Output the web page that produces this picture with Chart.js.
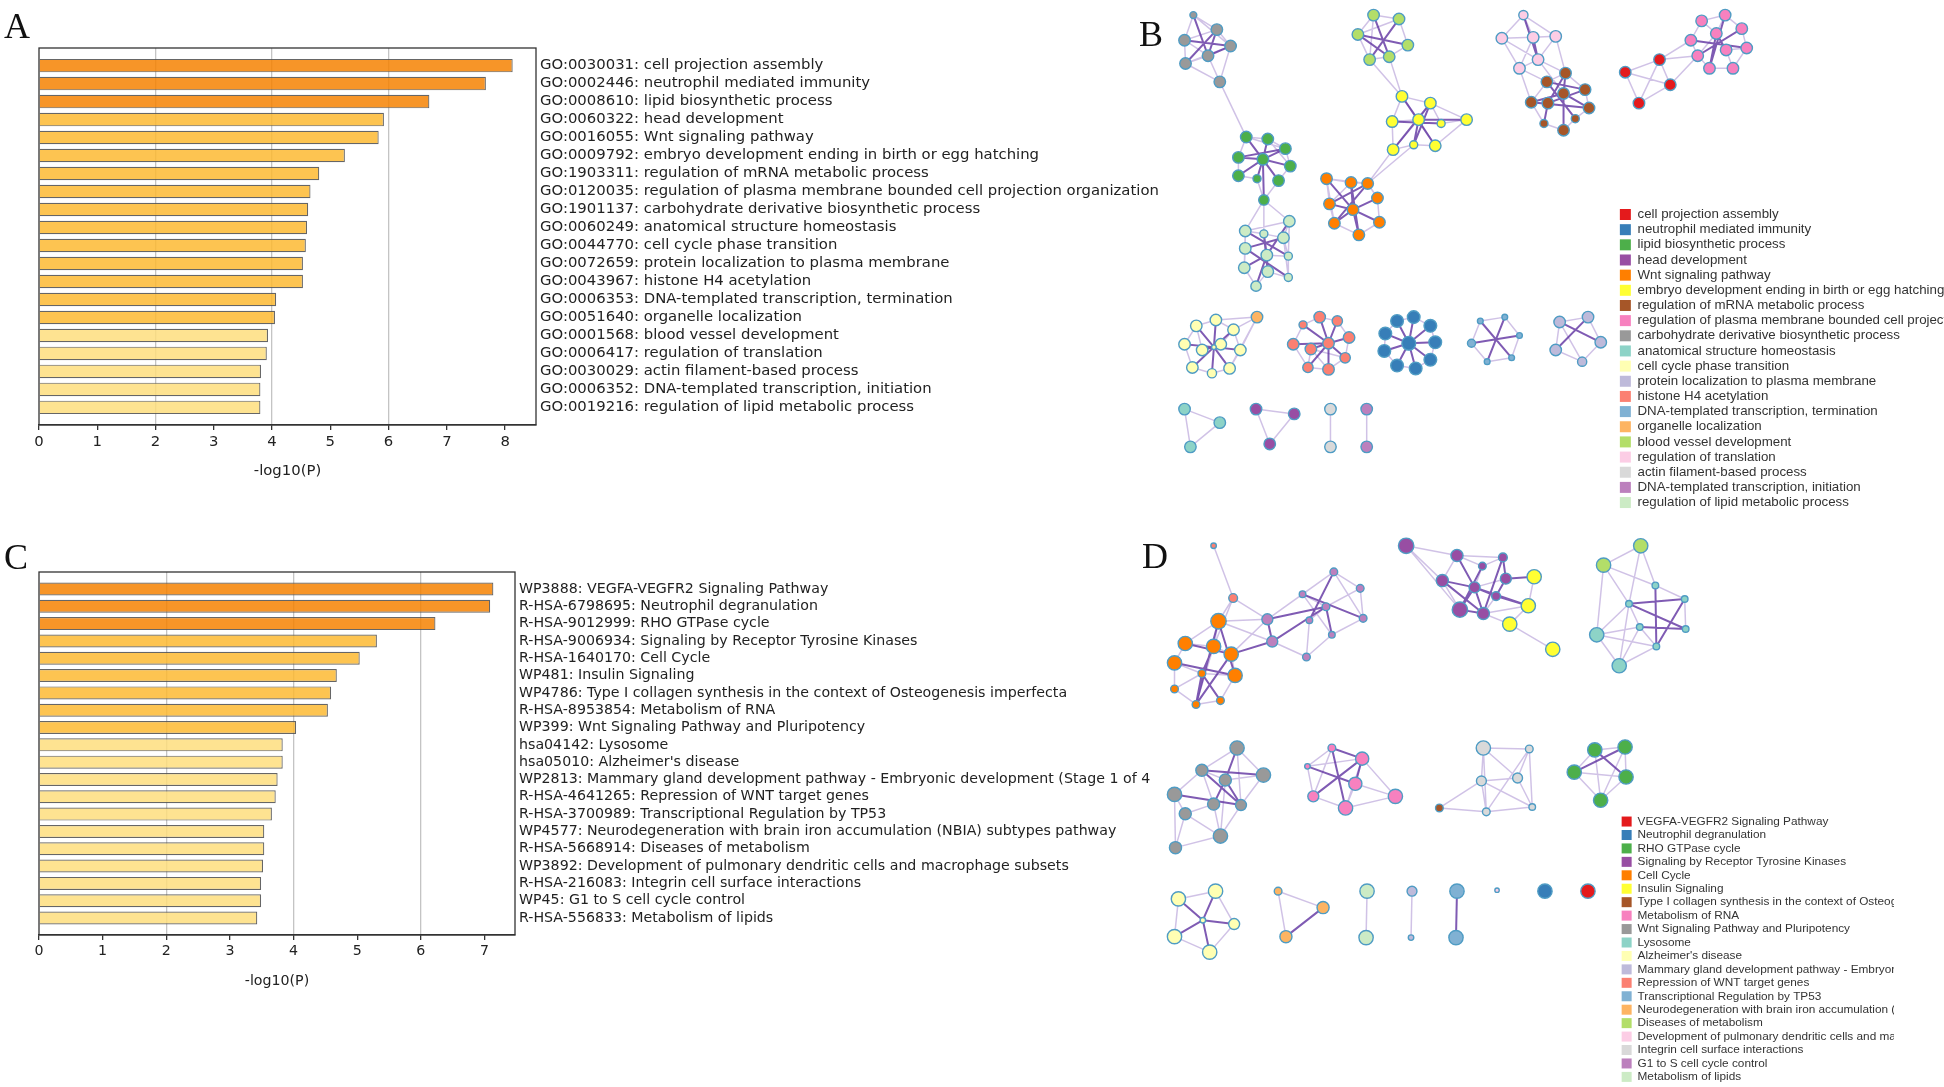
<!DOCTYPE html>
<html>
<head>
<meta charset="utf-8">
<script src="https://cdn.jsdelivr.net/npm/chart.js@4.4.1/dist/chart.umd.min.js"></script>
<style>
body { margin: 0; width: 1944px; height: 1087px; overflow: hidden; background: #fff; position: relative; }
canvas { position: absolute; }
.clip { position: absolute; overflow: hidden; }
.clip canvas { left: 0; top: 0; }
.tag { position: absolute; font-family: 'Liberation Serif', serif; font-size: 36px; line-height: 1; color: #111; }
</style>
</head>
<body>
<canvas id="netB" width="804" height="520" style="left:1140px;top:0"></canvas>
<canvas id="netD" width="804" height="560" style="left:1140px;top:527px"></canvas>
<div class="clip" style="left:1618px;top:206px;width:326px;height:310px"><canvas id="legB" width="1000" height="310"></canvas></div>
<div class="clip" style="left:1620px;top:814px;width:274px;height:273px"><canvas id="legD" width="1000" height="273"></canvas></div>
<canvas id="barA" width="1170" height="480" style="left:0;top:0"></canvas>
<canvas id="barC" width="1151" height="466" style="left:0;top:524px"></canvas>
<div class="tag" style="left:4px;top:8px">A</div>
<div class="tag" style="left:1139px;top:16px">B</div>
<div class="tag" style="left:4px;top:539px">C</div>
<div class="tag" style="left:1142px;top:538px">D</div>
<script>
// ---- bar chart A (GO terms) ----
const termsA = [
  'GO:0030031: cell projection assembly',
  'GO:0002446: neutrophil mediated immunity',
  'GO:0008610: lipid biosynthetic process',
  'GO:0060322: head development',
  'GO:0016055: Wnt signaling pathway',
  'GO:0009792: embryo development ending in birth or egg hatching',
  'GO:1903311: regulation of mRNA metabolic process',
  'GO:0120035: regulation of plasma membrane bounded cell projection organization',
  'GO:1901137: carbohydrate derivative biosynthetic process',
  'GO:0060249: anatomical structure homeostasis',
  'GO:0044770: cell cycle phase transition',
  'GO:0072659: protein localization to plasma membrane',
  'GO:0043967: histone H4 acetylation',
  'GO:0006353: DNA-templated transcription, termination',
  'GO:0051640: organelle localization',
  'GO:0001568: blood vessel development',
  'GO:0006417: regulation of translation',
  'GO:0030029: actin filament-based process',
  'GO:0006352: DNA-templated transcription, initiation',
  'GO:0019216: regulation of lipid metabolic process'
];
const valuesA = [8.13, 7.67, 6.70, 5.92, 5.83, 5.25, 4.81, 4.66, 4.62, 4.60,
                 4.58, 4.53, 4.53, 4.07, 4.05, 3.93, 3.91, 3.81, 3.80, 3.80];
const xTicksA = [0, 1, 2, 3, 4, 5, 6, 7, 8];

// ---- bar chart C (pathways) ----
const termsC = [
  'WP3888: VEGFA-VEGFR2 Signaling Pathway',
  'R-HSA-6798695: Neutrophil degranulation',
  'R-HSA-9012999: RHO GTPase cycle',
  'R-HSA-9006934: Signaling by Receptor Tyrosine Kinases',
  'R-HSA-1640170: Cell Cycle',
  'WP481: Insulin Signaling',
  'WP4786: Type I collagen synthesis in the context of Osteogenesis imperfecta',
  'R-HSA-8953854: Metabolism of RNA',
  'WP399: Wnt Signaling Pathway and Pluripotency',
  'hsa04142: Lysosome',
  "hsa05010: Alzheimer's disease",
  'WP2813: Mammary gland development pathway - Embryonic development (Stage 1 of 4)',
  'R-HSA-4641265: Repression of WNT target genes',
  'R-HSA-3700989: Transcriptional Regulation by TP53',
  'WP4577: Neurodegeneration with brain iron accumulation (NBIA) subtypes pathway',
  'R-HSA-5668914: Diseases of metabolism',
  'WP3892: Development of pulmonary dendritic cells and macrophage subsets',
  'R-HSA-216083: Integrin cell surface interactions',
  'WP45: G1 to S cell cycle control',
  'R-HSA-556833: Metabolism of lipids'
];
const valuesC = [7.14, 7.09, 6.23, 5.31, 5.04, 4.68, 4.59, 4.54, 4.04, 3.83,
                 3.83, 3.75, 3.72, 3.66, 3.54, 3.54, 3.52, 3.49, 3.49, 3.43];
const xTicksC = [0, 1, 2, 3, 4, 5, 6, 7];

// ---- network legends ----
const legendB = [
  'cell projection assembly', 'neutrophil mediated immunity', 'lipid biosynthetic process',
  'head development', 'Wnt signaling pathway', 'embryo development ending in birth or egg hatching',
  'regulation of mRNA metabolic process', 'regulation of plasma membrane bounded cell projection organization',
  'carbohydrate derivative biosynthetic process', 'anatomical structure homeostasis',
  'cell cycle phase transition', 'protein localization to plasma membrane', 'histone H4 acetylation',
  'DNA-templated transcription, termination', 'organelle localization', 'blood vessel development',
  'regulation of translation', 'actin filament-based process', 'DNA-templated transcription, initiation',
  'regulation of lipid metabolic process'
];
const legendD = [
  'VEGFA-VEGFR2 Signaling Pathway', 'Neutrophil degranulation', 'RHO GTPase cycle',
  'Signaling by Receptor Tyrosine Kinases', 'Cell Cycle', 'Insulin Signaling',
  'Type I collagen synthesis in the context of Osteogenesis imperfecta', 'Metabolism of RNA',
  'Wnt Signaling Pathway and Pluripotency', 'Lysosome', "Alzheimer's disease",
  'Mammary gland development pathway - Embryonic development (Stage 1 of 4)',
  'Repression of WNT target genes', 'Transcriptional Regulation by TP53',
  'Neurodegeneration with brain iron accumulation (NBIA) subtypes pathway', 'Diseases of metabolism',
  'Development of pulmonary dendritic cells and macrophage subsets', 'Integrin cell surface interactions',
  'G1 to S cell cycle control', 'Metabolism of lipids'
];
const palette = ['#e41a1c', '#377eb8', '#4daf4a', '#984ea3', '#ff7f00', '#ffff33', '#a65628', '#f781bf',
                 '#999999', '#8dd3c7', '#ffffb3', '#bebada', '#fb8072', '#80b1d3', '#fdb462', '#b3de69',
                 '#fccde5', '#d9d9d9', '#bc80bd', '#ccebc5'];

// ---- network B: nodes [x, y, radius, term], links "a-b" weak / "a=b" strong ----
const bGray = [[46,7,3,8],[70,22,5,8],[37,33,5,8],[84,39,5,8],[61,49,5,8],[38,57,5,8],[73,76,5,8]];
const bGrayLinks = '0-1 0-2 0-3 1-2 1-3 2-5 3-6 4-6 5-6 2-4 3-5 5-4 2=3 1=5 4=3 1=4 0=4';
const bGreen = [[100,133,5,2],[122,135,5,2],[140,145,5,2],[92,154,5,2],[117,156,5,2],[145,163,5,2],
                [92,173,5,2],[111,176,3.5,2],[133,178,5,2],[118,198,4.5,2]];
const bGreenLinks = '0-1 1-2 2-5 5-8 8-9 9-7 7-6 6-3 3-0 0-2 3-6 1-5 4=0 4=1 4=2 4=3 4=5 4=6 4=7 4=8 4=9 0=8 3=2';
const bMint = [[144,220,5,19],[99,230,5,19],[118,233,3.5,19],[138,237,5,19],[99,248,5,19],[121,255,5,19],
               [143,256,3.5,19],[98,268,5,19],[122,272,5,19],[143,278,3.5,19],[110,287,4.5,19]];
const bMintLinks = '0-1 0-3 1-2 1-4 2-3 3-6 4-7 5-6 6-9 7-10 8-9 8-10 0-6 1-7 3-9 2=5 3=4 5=7 5=8 1=6 2=8 4=9 5=10 0=5';
const bLime = [[230,7,5,15],[256,11,5,15],[214,27,5,15],[265,38,5,15],[226,53,5,15],[246,50,5,15]];
const bLimeLinks = '0-1 0-2 1-3 2-4 4-5 3-5 0-4 1-2 0=5 2=3 1=4 2=5';
const bYellow = [[259,91,5,5],[288,98,5,5],[249,117,5,5],[276,115,5,5],[299,119,3.5,5],[325,115,5,5],
                 [250,146,5,5],[271,141,3.5,5],[293,142,5,5]];
const bYellowLinks = '0-1 0-2 1-5 2-6 4-5 5-8 6-7 7-8 0-3 1-3 3-8 3-6 1-4 2-3 0=8 1=6 3=7 2=4 3=5 1=7';
const bOrange = [[182,176,5,4],[207,180,5,4],[224,181,5,4],[234,196,5,4],[185,202,5,4],[209,208,5,4],
                 [190,222,5,4],[236,221,5,4],[215,234,5,4]];
const bOrangeLinks = '0-1 1-2 2-3 3-7 7-8 8-6 6-4 4-0 0-2 4-1 0-6 5=0 5=1 5=3 5=4 5=6 5=7 5=8 1=8 2=6 2=4';
const bBrown = [[383,7,4,16],[361,31,5,16],[393,30,5,16],[416,29,5,16],[398,53,5,16],[379,62,5,16],
                [426,67,5,6],[407,76,5,6],[446,84,5,6],[424,88,5,6],[391,97,5,6],[408,98,5,6],
                [450,103,5,6],[404,119,3.5,6],[436,114,3.5,6],[424,126,5,6]];
const bBrownLinks = '0-1 0-2 0-3 1-2 2-3 1-4 2-5 3-4 4-5 1-5 0=4 2=4 6=9 6=11 7=8 9=10 9=12 9=15 8=11 7=14 10=12 11=13 ' +
                    '6-7 6-8 8-12 12-14 14-15 15-13 13-10 10-7 4-6 5-7 5-10 3-6 4-9';
const bRed = [[522,53,5,0],[487,66,5,0],[533,79,5,0],[501,98,5,0],
              [565,13,5,7],[589,7,5,7],[606,21,5,7],[554,33,5,7],[580,26,5,7],[561,49,5,7],
              [590,43,5,7],[611,41,5,7],[573,62,5,7],[597,62,5,7]];
const bRedLinks = '0-1 0-2 1-3 2-3 1-2 0-3 4-5 5-6 4-7 7-9 9-12 12-13 13-11 11-6 4-8 5-8 8=10 8=12 5=12 7=11 6=9 ' +
                  '8-9 10-11 10-13 0-9 0-7 2-9';
const bPale = [[49,328,5,10],[69,322,5,10],[87,332,5,10],[37,347,5,10],[55,353,5,10],[74,347,5,10],
               [94,353,5,10],[67,350,2,10],[45,371,5,10],[65,377,4,10],[83,372,5,10],[111,319,5,14]];
const bPaleLinks = '0-1 1-2 2-6 6-10 10-9 9-8 8-3 3-0 0-4 2-5 4-5 7=0 7=1 7=2 7=3 7=4 7=5 7=6 7=8 7=9 7=10 11-1 11-2 11-6 11-10';
const bSalmon = [[158,327,3.5,12],[175,319,5,12],[193,323,4.5,12],[148,347,5,12],[166,352,5,12],
                 [184,346,5,12],[205,340,5,12],[201,361,4.5,12],[163,371,4.5,12],[184,373,5,12]];
const bSalmonLinks = '0-1 1-2 2-6 6-7 7-9 9-8 8-3 3-0 4-8 4-9 7-4 5=0 5=1 5=2 5=3 5=4 5=6 5=7 5=8 5=9';
const bBlue = [[254,323,5.5,1],[271,319,5.5,1],[288,328,5.5,1],[242,336,5.5,1],[293,345,5.5,1],
               [266,346,6,1],[241,354,5.5,1],[288,363,5.5,1],[254,369,5.5,1],[273,372,5.5,1]];
const bBlueLinks = '0-1 1-2 2-4 4-7 7-9 9-8 8-6 6-3 3-0 5=0 5=1 5=2 5=3 5=4 5=6 5=7 5=8 5=9';
const bSky = [[339,323,2.5,13],[364,319,2.5,13],[379,338,2.5,13],[330,346,3.5,13],[371,361,2.5,13],[346,365,2.5,13]];
const bSkyLinks = '0-1 1-2 2-4 4-5 5-3 3-0 0=4 1=5 2=3';
const bLavender = [[420,324,5,11],[449,319,5,11],[462,345,5,11],[416,353,5,11],[443,365,4,11]];
const bLavenderLinks = '0-1 1-2 2-4 4-3 3-0 0=2 1=3 0-4';
const bTeal = [[37,414,5,9],[73,428,5,9],[43,453,5,9]];
const bPurple = [[110,414,5,3],[149,419,5,3],[124,450,5,3]];
const bSilver = [[186,414,5,17],[186,453,5,17]];
const bOrchid = [[223,414,5,18],[223,453,5,18]];
const bBridges = [[bGray,6,bGreen,0],[bGreen,9,bMint,0],[bGreen,9,bMint,1],[bGreen,9,bMint,2],
                  [bLime,4,bYellow,0],[bLime,5,bYellow,0],[bYellow,6,bOrange,2],[bYellow,7,bOrange,2]];

// ---- network D ----
const dLeft = [[71,88,7,4],[37,111,6.5,4],[66,114,6.5,4],[84,122,6.5,4],[26,131,6.5,4],[54,142,3.5,4],
               [88,144,6.5,4],[26,158,3.5,4],[73,170,3.5,4],[48,174,3.5,4],[86,64,4,12],[66,10,2.5,12],
               [121,86,5,18],[126,109,5,18],[157,60,3,18],[189,37,3.5,18],[216,54,3.5,18],[181,73,3.5,18],
               [164,87,3,18],[219,85,3.5,18],[187,102,3,18],[161,125,3.5,18]];
const dLeftLinks = '0-1 0-2 0=6 1-2 1-4 2-3 2=5 3-6 4-5 4-7 5-6 5=8 5=9 5-7 6-8 7-9 8-9 1=3 4=6 2-9 3=9 0=9 ' +
                   '10-11 10-0 10-12 10-2 0-12 0-13 3-12 3=13 12=13 12-14 13=17 12-15 13-21 14-15 14-17 14=19 ' +
                   '15-16 15=18 16-19 17-18 17=20 18-21 19-20 20-21 16-17 15-19 14-20 12=17';
const dMid = [[263,10,7,3],[315,20,5.5,3],[362,22,4,3],[341,31,3.5,3],[300,46,5.5,3],[365,44,5,3],
              [333,53,5,3],[355,62,4,3],[318,76,7,3],[342,80,5.5,3],
              [394,42,6.5,5],[388,72,6.5,5],[369,91,6.5,5],[413,117,6.5,5]];
const dMidLinks = '0-1 0-4 0-8 1-3 1=6 1-4 2-3 2=5 2=9 3-6 3=8 4=6 4=9 4-8 5-6 5=10 5=7 6=7 6=8 6=9 7-9 8=9 ' +
                  '7=11 9-11 9-12 10-11 11-12 12-13 11=6 1-2';
const dRight = [[503,10,6.5,15],[465,30,6.5,15],[458,102,6.5,9],[481,134,6.5,9],[518,51,3,9],[491,70,3,9],
                [548,65,3,9],[502,94,3,9],[549,96,3,9],[519,114,3,9]];
const dRightLinks = '0-1 0-5 1-5 0-4 1-2 2-3 2-5 2-7 3-7 3-9 5=8 5=6 4=9 6=9 6-8 4-6 7=8 5-7 7-9 2-9 3-5 1-4';
const dGray = [[90,219,6.5,8],[117,247,6.5,8],[54,242,5.5,8],[78,252,5.5,8],[26,267,6.5,8],[66,277,5.5,8],
               [94,278,5,8],[37,287,5.5,8],[73,310,6.5,8],[27,322,5.5,8]];
const dGrayLinks = '0-1 0-2 0=3 0-6 1-6 1=2 2-3 2-4 2=6 2-5 3=5 3=6 4-7 4=6 5-7 5-8 7-8 7-9 9-8 6-8 4-9 1-3 3-8';
const dPink = [[187,219,3.5,7],[162,238,2.5,7],[218,230,6,7],[211,256,6,7],[168,269,5,7],[201,281,6.5,7],[252,269,6.5,7]];
const dPinkLinks = '0-1 0=2 0=5 1-4 1=3 1-2 2=3 2-5 2-6 3-5 3-6 4-5 4=2 5-6 4-0';
const dSilver = [[342,219,6.5,17],[389,220,3.5,17],[340,253,4.5,17],[377,250,4.5,17],[345,285,3.5,17],
                 [392,280,3,17],[297,281,3.5,6]];
const dSilverLinks = '0-1 0-2 0-4 2-4 2-3 1-3 1-5 3-5 0-3 2-5 4-5 1-4 6-2 6-4';
const dGreen = [[456,221,6.5,2],[487,218,6.5,2],[435,244,6.5,2],[488,249,6.5,2],[462,273,6.5,2]];
const dGreenLinks = '0-1 0-2 2-4 4-3 3-1 2-3 0=3 1=2 0-4 1-4';
const dPale = [[30,375,6.5,10],[68,367,6.5,10],[87,401,5,10],[26,414,6.5,10],[62,430,6.5,10],[55,397,2.5,10]];
const dPaleLinks = '0-1 1-2 2-4 4-3 3-0 5=0 5=1 5=2 5=3 5=4';
const dApricot = [[132,367,3.5,14],[178,384,5.5,14],[140,414,5.5,14]];
const dMint = [[223,367,6.5,19],[222,415,6.5,19]];
const dLavender = [[269,367,4.5,11],[268,415,2.5,11]];
const dSky = [[315,367,6.5,13],[314,415,6.5,13]];
const dSingles = [[356,366,2,16],[405,367,6.5,1],[449,367,6.5,0]];

Chart.defaults.font.family = "'DejaVu Sans'";
Chart.defaults.color = '#222';

// box round the plot area
const frame = {
  id: 'frame',
  afterDraw(chart) {
    const { ctx, chartArea: a } = chart;
    ctx.save();
    ctx.strokeStyle = '#333';
    ctx.lineWidth = 1.3;
    ctx.strokeRect(a.left, a.top, a.right - a.left, a.bottom - a.top);
    ctx.restore();
  }
};

function barColor(v) {
  if (v > 6) return 'rgba(246,131,2,0.85)';
  if (v > 4) return 'rgba(253,186,51,0.85)';
  return 'rgba(254,222,126,0.85)';
}

function makeBars(id, labels, values, xTicks, xMax, fontSize, areaRight, areaBottom) {
  const el = document.getElementById(id);
  const W = el.width, H = el.height;
  new Chart(el, {
    type: 'bar',
    data: {
      datasets: [{
        data: values.map((v, i) => ({ x: v, y: i })),
        backgroundColor: c => barColor(c.raw ? c.raw.x : 0),
        borderColor: 'rgba(85,85,85,0.9)',
        borderWidth: 1.2,
        barPercentage: 0.75,
        categoryPercentage: 1
      }]
    },
    options: {
      indexAxis: 'y',
      responsive: false,
      animation: false,
      layout: { padding: { left: 39, top: 48, right: 0, bottom: 0 } },
      scales: {
        x: {
          type: 'linear', min: 0, max: xMax, position: 'bottom',
          afterBuildTicks: s => { s.ticks = xTicks.map(v => ({ value: v })); },
          ticks: { font: { size: fontSize }, color: '#222', padding: 3, maxRotation: 0, autoSkip: false },
          grid: {
            color: c => (c.tick && [2, 4, 6].includes(c.tick.value)) ? '#c4c4c4' : 'rgba(0,0,0,0)',
            lineWidth: 1.3, tickColor: '#333', tickLength: 5
          },
          border: { display: true, color: '#333', width: 1.3 },
          title: { display: true, text: '-log10(P)', font: { size: fontSize }, color: '#222', padding: { top: 4, bottom: 0 } },
          afterFit: s => { s.height = H - areaBottom; }
        },
        y: {
          type: 'linear', min: -0.98, max: 19.98, reverse: true, position: 'right', offset: false,
          afterBuildTicks: s => { s.ticks = labels.map((_, i) => ({ value: i })); },
          ticks: { callback: v => labels[v], font: { size: fontSize }, color: '#222', padding: 4, autoSkip: false },
          grid: { display: false, drawTicks: false, offset: false },
          border: { display: false },
          afterFit: s => { s.width = W - areaRight; }
        }
      },
      plugins: { legend: { display: false }, tooltip: { enabled: false } }
    },
    plugins: [frame]
  });
}

function buildNet(clusters, bridges) {
  const nodeSets = palette.map(() => []);
  const weak = [], strong = [];
  const gap = { x: null, y: null };
  clusters.forEach(([nodes, links]) => {
    nodes.forEach(n => nodeSets[n[3]].push({ x: n[0], y: n[1], r: n[2] }));
    (links ? links.split(' ') : []).forEach(tok => {
      const [a, b] = tok.split(/[-=]/).map(Number);
      const target = tok.includes('=') ? strong : weak;
      target.push({ x: nodes[a][0], y: nodes[a][1] }, { x: nodes[b][0], y: nodes[b][1] }, gap);
    });
  });
  bridges.forEach(([na, a, nb, b]) => {
    weak.push({ x: na[a][0], y: na[a][1] }, { x: nb[b][0], y: nb[b][1] }, gap);
  });
  return { nodeSets, weak, strong };
}

function makeNet(id, clusters, bridges, names, grow) {
  const el = document.getElementById(id);
  const { nodeSets, weak, strong } = buildNet(clusters, bridges);
  const datasets = nodeSets.map((pts, t) => ({
    label: names[t],
    data: pts,
    backgroundColor: palette[t],
    borderColor: '#4f9cc4',
    borderWidth: 1.4,
    pointRadius: c => (c.raw ? c.raw.r * grow : 0),
    order: 0,
    clip: false
  }));
  datasets.push({ data: weak, showLine: true, spanGaps: false, borderColor: 'rgba(150,120,200,0.45)',
                  borderWidth: 1.5, pointRadius: 0, order: 3, clip: false });
  datasets.push({ data: strong, showLine: true, spanGaps: false, borderColor: 'rgba(95,50,160,0.8)',
                  borderWidth: 2, pointRadius: 0, order: 2, clip: false });
  new Chart(el, {
    type: 'scatter',
    data: { datasets },
    options: {
      responsive: false,
      animation: false,
      layout: { padding: 0 },
      scales: {
        x: { type: 'linear', min: 0, max: el.width, display: false },
        y: { type: 'linear', min: 0, max: el.height, reverse: true, display: false }
      },
      plugins: { legend: { display: false }, tooltip: { enabled: false } }
    }
  });
}

function makeLegend(id, names, fontSize, box, pad) {
  new Chart(document.getElementById(id), {
    type: 'bar',
    data: {
      labels: [],
      datasets: names.map((n, i) => ({ label: n, data: [], backgroundColor: palette[i], borderWidth: 0 }))
    },
    options: {
      responsive: false,
      animation: false,
      scales: { x: { display: false }, y: { display: false } },
      plugins: {
        legend: {
          position: 'left', align: 'start',
          labels: { boxWidth: box, boxHeight: box, padding: pad, color: '#333',
                    font: { family: "'Liberation Sans'", size: fontSize } }
        },
        tooltip: { enabled: false }
      }
    }
  });
}

makeBars('barA', termsA, valuesA, xTicksA, 8.53, 14.85, 536, 425);
makeBars('barC', termsC, valuesC, xTicksC, 7.48, 14.2, 515, 411);

makeNet('netB', [
  [bGray, bGrayLinks], [bGreen, bGreenLinks], [bMint, bMintLinks], [bLime, bLimeLinks],
  [bYellow, bYellowLinks], [bOrange, bOrangeLinks], [bBrown, bBrownLinks], [bRed, bRedLinks],
  [bPale, bPaleLinks], [bSalmon, bSalmonLinks], [bBlue, bBlueLinks], [bSky, bSkyLinks],
  [bLavender, bLavenderLinks], [bTeal, '0-1 1-2 0-2'], [bPurple, '0-1 1-2 0-2'],
  [bSilver, '0-1'], [bOrchid, '0-1']
], bBridges, legendB, 1.15);

makeNet('netD', [
  [dLeft, dLeftLinks], [dMid, dMidLinks], [dRight, dRightLinks], [dGray, dGrayLinks],
  [dPink, dPinkLinks], [dSilver, dSilverLinks], [dGreen, dGreenLinks], [dPale, dPaleLinks],
  [dApricot, '0-1 1=2 0-2'], [dMint, '0-1'], [dLavender, '0-1'], [dSky, '0=1'], [dSingles, '']
], [], legendD, 1.1);

makeLegend('legB', legendB, 13.3, 11, 1.86);
makeLegend('legD', legendD, 11.8, 10, 1.64);
</script>
</body>
</html>
